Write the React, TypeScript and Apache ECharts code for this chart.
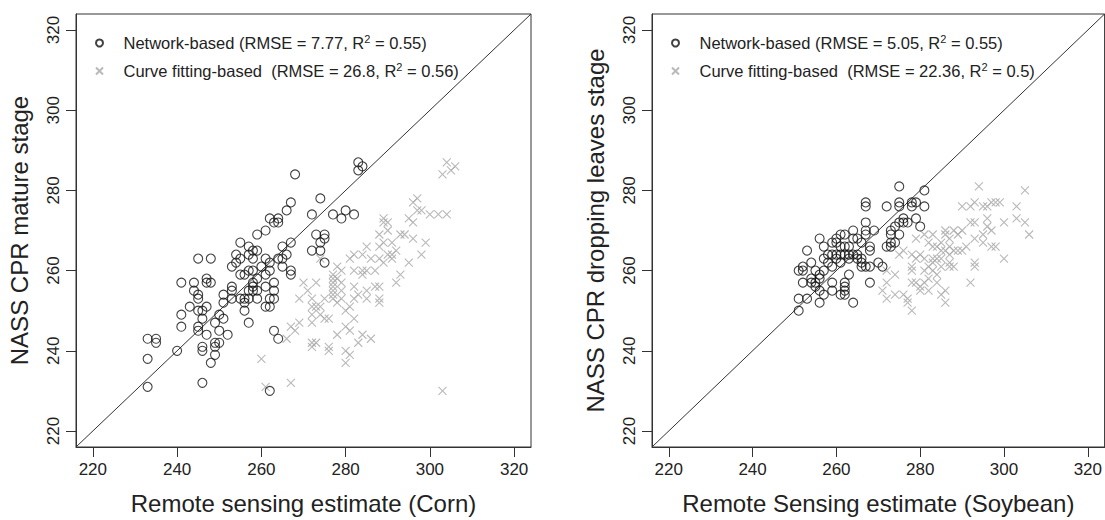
import React, { useEffect, useRef } from "react";
import * as echarts from "echarts";

// ---------- data ----------
const TICKS = [220, 240, 260, 280, 300, 320];
const AXIS_RANGE = [216, 324];
const DIAGONAL = [
  [216, 216],
  [324, 324],
];

const CORN_X_TITLE = "Remote sensing estimate (Corn)";
const CORN_Y_TITLE = "NASS CPR mature stage";
const SOY_X_TITLE = "Remote Sensing estimate (Soybean)";
const SOY_Y_TITLE = "NASS CPR dropping leaves stage";

const CORN_NET_NAME = "Network-based (RMSE = 7.77, R2 = 0.55)";
const CORN_CURVE_NAME = "Curve fitting-based  (RMSE = 26.8, R2 = 0.56)";
const SOY_NET_NAME = "Network-based (RMSE = 5.05, R2 = 0.55)";
const SOY_CURVE_NAME = "Curve fitting-based  (RMSE = 22.36, R2 = 0.5)";

const CORN_NETWORK = [
  [233, 243], [233, 238], [233, 231], [235, 243], [235, 242], [240, 240], [241, 249], [241, 246],
  [241, 257], [243, 251], [244, 257], [244, 255], [245, 263], [245, 254], [245, 253], [245, 250],
  [245, 246], [245, 245], [246, 241], [246, 240], [246, 232], [246, 248], [246, 250], [247, 258],
  [247, 257], [247, 251], [247, 244], [248, 257], [248, 263], [248, 237], [249, 247], [249, 241],
  [249, 239], [249, 242], [250, 249], [250, 245], [250, 242], [251, 254], [251, 252], [251, 248],
  [252, 244], [253, 261], [253, 256], [253, 255], [253, 253], [254, 264], [254, 262], [255, 263],
  [255, 267], [255, 259], [255, 253], [256, 253], [256, 252], [256, 250], [256, 259], [257, 260],
  [257, 266], [257, 264], [257, 255], [257, 253], [257, 247], [258, 260], [258, 265], [258, 263],
  [258, 257], [258, 256], [258, 255], [259, 269], [259, 265], [259, 258], [259, 255], [259, 253],
  [260, 261], [261, 270], [261, 263], [261, 256], [261, 259], [261, 251], [262, 251], [262, 260],
  [262, 253], [262, 273], [262, 262], [263, 272], [263, 257], [263, 255], [263, 253], [263, 245],
  [264, 243], [264, 272], [264, 273], [264, 263], [265, 261], [265, 266], [265, 263], [266, 264],
  [266, 275], [267, 267], [267, 260], [267, 259], [267, 277], [268, 284], [272, 274], [272, 265],
  [273, 269], [274, 278], [274, 265], [274, 267], [275, 269], [275, 268], [275, 262], [277, 274],
  [279, 273], [280, 275], [282, 274], [283, 287], [283, 285], [284, 286], [262, 230],
];

const CORN_CURVE = [
  [260, 238], [261, 231], [267, 232], [266, 243], [267, 246], [268, 245], [269, 247], [269, 253],
  [270, 257], [271, 255], [272, 253], [272, 251], [272, 249], [272, 247], [272, 242], [272, 241],
  [273, 257], [273, 251], [273, 242], [274, 251], [274, 249], [274, 263], [275, 253], [275, 248],
  [276, 248], [276, 241], [276, 240], [277, 253], [277, 259], [277, 258], [277, 257], [277, 256],
  [277, 255], [277, 254], [278, 261], [278, 258], [278, 252], [278, 244], [279, 257], [279, 255],
  [279, 253], [279, 260], [280, 250], [280, 246], [280, 240], [280, 237], [281, 239], [281, 245],
  [281, 251], [281, 263], [282, 248], [282, 253], [282, 256], [282, 260], [282, 264], [283, 242],
  [283, 254], [284, 259], [284, 260], [284, 244], [284, 264], [285, 266], [285, 260], [285, 253],
  [285, 255], [286, 243], [286, 263], [287, 260], [287, 256], [288, 253], [288, 252], [288, 256],
  [288, 269], [288, 266], [288, 263], [289, 273], [289, 272], [289, 262], [289, 267], [290, 272],
  [290, 270], [290, 264], [291, 267], [291, 264], [291, 263], [292, 265], [292, 257], [293, 259],
  [293, 269], [294, 269], [295, 262], [295, 273], [296, 272], [296, 268], [296, 277], [297, 278],
  [297, 275], [298, 275], [298, 264], [299, 267], [300, 274], [302, 274], [304, 274], [303, 284],
  [304, 287], [305, 285], [306, 286], [303, 230],
];

const SOY_NETWORK = [
  [251, 250], [251, 253], [251, 260], [252, 261], [252, 260], [252, 257], [253, 265], [253, 253],
  [254, 262], [254, 258], [254, 257], [255, 260], [255, 257], [255, 256], [256, 268], [256, 259],
  [256, 258], [256, 255], [256, 252], [257, 260], [257, 263], [257, 266], [257, 254], [258, 264],
  [258, 262], [259, 255], [259, 257], [259, 267], [259, 261], [259, 264], [260, 268], [260, 267],
  [260, 263], [260, 264], [261, 269], [261, 266], [261, 264], [261, 262], [261, 254], [262, 257],
  [262, 256], [262, 255], [262, 254], [262, 269], [262, 266], [262, 264], [263, 266], [263, 264],
  [263, 263], [263, 259], [264, 270], [264, 268], [264, 264], [264, 252], [265, 264], [265, 263],
  [265, 268], [266, 267], [266, 263], [266, 261], [266, 262], [267, 277], [267, 276], [267, 272],
  [267, 270], [267, 269], [267, 261], [268, 266], [268, 265], [268, 257], [268, 261], [269, 270],
  [270, 262], [271, 261], [272, 276], [272, 266], [273, 270], [273, 269], [273, 266], [273, 267],
  [274, 271], [274, 267], [275, 281], [275, 277], [275, 276], [275, 272], [275, 269], [276, 273],
  [276, 272], [277, 272], [278, 276], [278, 277], [279, 277], [279, 273], [280, 271], [281, 280],
  [281, 276],
];

const SOY_CURVE = [
  [271, 255], [272, 253], [272, 257], [272, 260], [274, 259], [274, 254], [275, 264], [276, 254],
  [276, 265], [277, 253], [277, 252], [278, 250], [278, 260], [278, 261], [278, 264], [278, 257],
  [279, 268], [279, 257], [279, 263], [280, 256], [280, 255], [280, 264], [281, 263], [281, 257],
  [281, 260], [281, 269], [282, 261], [282, 258], [282, 255], [282, 267], [283, 269], [283, 266],
  [283, 263], [283, 262], [283, 260], [284, 266], [284, 263], [284, 259], [284, 257], [285, 267],
  [285, 265], [285, 263], [285, 261], [285, 254], [286, 270], [286, 269], [286, 255], [286, 252],
  [286, 265], [287, 268], [287, 266], [287, 264], [287, 262], [287, 261], [288, 270], [288, 265],
  [288, 261], [289, 265], [289, 269], [290, 270], [290, 276], [290, 265], [291, 266], [292, 276],
  [292, 257], [292, 272], [293, 277], [293, 272], [293, 268], [293, 262], [293, 261], [294, 281],
  [295, 276], [295, 269], [295, 267], [296, 276], [296, 273], [296, 271], [297, 277], [297, 270],
  [297, 266], [298, 266], [298, 277], [299, 277], [300, 263], [300, 272], [303, 273], [303, 276],
  [305, 280], [305, 272], [306, 269],
];

// ---------- styles ----------
const TEXT_COLOR = "#222";
const FRAME_COLOR = "#333";
const CIRCLE_COLOR = "#111";
const CROSS_COLOR = "#a8a8a8";
const CROSS_SYMBOL = "path://M0 0L10 10M10 0L0 10";
const FONT = "'Liberation Sans', Arial, sans-serif";

const GRIDS = [
  { left: 76, top: 14, width: 455, height: 443 },
  { left: 652, top: 14, width: 455, height: 443 },
];

function legendLabel(name: string) {
  const idx = name.indexOf("R2");
  return name.slice(0, idx) + "R{s|2}" + name.slice(idx + 2);
}

function makeAxisX(gridIndex: number, title: string) {
  return {
    type: "value",
    gridIndex,
    min: AXIS_RANGE[0],
    max: AXIS_RANGE[1],
    name: title,
    nameLocation: "middle",
    nameGap: 44,
    nameTextStyle: { fontSize: 24, color: TEXT_COLOR, fontFamily: FONT },
    axisLine: { show: true, onZero: false, lineStyle: { color: FRAME_COLOR, width: 1 } },
    axisTick: {
      show: true,
      length: 10,
      customValues: TICKS,
      lineStyle: { color: FRAME_COLOR, width: 1 },
    },
    axisLabel: {
      customValues: TICKS,
      fontSize: 17,
      color: TEXT_COLOR,
      fontFamily: FONT,
      margin: 14,
    },
    splitLine: { show: false },
  };
}

function makeAxisY(gridIndex: number, title: string) {
  return {
    type: "value",
    gridIndex,
    min: AXIS_RANGE[0],
    max: AXIS_RANGE[1],
    name: title,
    nameLocation: "middle",
    nameGap: 45,
    nameTextStyle: { fontSize: 24, color: TEXT_COLOR, fontFamily: FONT },
    axisLine: { show: true, onZero: false, lineStyle: { color: FRAME_COLOR, width: 1 } },
    axisTick: {
      show: true,
      length: 10,
      customValues: TICKS,
      lineStyle: { color: FRAME_COLOR, width: 1 },
    },
    axisLabel: {
      customValues: TICKS,
      rotate: 90,
      fontSize: 17,
      color: TEXT_COLOR,
      fontFamily: FONT,
      margin: 14,
    },
    splitLine: { show: false },
  };
}

function makeLegend(left: number, names: string[]) {
  return {
    orient: "vertical",
    left,
    top: 28,
    itemGap: 8,
    itemWidth: 14,
    itemHeight: 7,
    selectedMode: false,
    data: names,
    formatter: legendLabel,
    textStyle: {
      fontSize: 16.5,
      color: TEXT_COLOR,
      fontFamily: FONT,
      lineHeight: 20,
      padding: [0, 0, 0, 12],
      rich: {
        s: { fontSize: 11, lineHeight: 11, verticalAlign: "top", color: TEXT_COLOR, fontFamily: FONT },
      },
    },
  };
}

function circleSeries(name: string, idx: number, data: number[][]) {
  return {
    type: "scatter",
    name,
    xAxisIndex: idx,
    yAxisIndex: idx,
    data,
    symbol: "circle",
    symbolSize: 9,
    itemStyle: { color: "rgba(0,0,0,0)", borderColor: CIRCLE_COLOR, borderWidth: 1.1 },
    z: 3,
  };
}

function crossSeries(name: string, idx: number, data: number[][]) {
  return {
    type: "scatter",
    name,
    xAxisIndex: idx,
    yAxisIndex: idx,
    data,
    symbol: CROSS_SYMBOL,
    symbolKeepAspect: true,
    symbolSize: 8,
    itemStyle: { color: CROSS_COLOR, borderColor: CROSS_COLOR, borderWidth: 1.1 },
    z: 2,
  };
}

function diagonalSeries(idx: number) {
  return {
    type: "line",
    xAxisIndex: idx,
    yAxisIndex: idx,
    data: DIAGONAL,
    showSymbol: false,
    symbol: "none",
    silent: true,
    lineStyle: { color: FRAME_COLOR, width: 1 },
    z: 1,
  };
}

export default function App() {
  const ref = useRef<HTMLDivElement>(null);
  useEffect(() => {
    document.body.style.margin = "0";
    if (!ref.current) return;
    const chart = echarts.init(ref.current, undefined, { renderer: "svg" });
    chart.setOption({
      animation: false,
      backgroundColor: "#fff",
      grid: GRIDS.map((g) => ({
        ...g,
        show: true,
        borderColor: FRAME_COLOR,
        borderWidth: 1,
        backgroundColor: "transparent",
        containLabel: false,
      })),
      xAxis: [makeAxisX(0, CORN_X_TITLE), makeAxisX(1, SOY_X_TITLE)],
      yAxis: [makeAxisY(0, CORN_Y_TITLE), makeAxisY(1, SOY_Y_TITLE)],
      legend: [
        makeLegend(90, [CORN_NET_NAME, CORN_CURVE_NAME]),
        makeLegend(666, [SOY_NET_NAME, SOY_CURVE_NAME]),
      ],
      series: [
        diagonalSeries(0),
        crossSeries(CORN_CURVE_NAME, 0, CORN_CURVE),
        circleSeries(CORN_NET_NAME, 0, CORN_NETWORK),
        diagonalSeries(1),
        crossSeries(SOY_CURVE_NAME, 1, SOY_CURVE),
        circleSeries(SOY_NET_NAME, 1, SOY_NETWORK),
      ],
    });
    return () => chart.dispose();
  }, []);
  return (
    <div
      ref={ref}
      style={{ position: "absolute", left: 0, top: 0, width: 1105, height: 520 }}
    />
  );
}
